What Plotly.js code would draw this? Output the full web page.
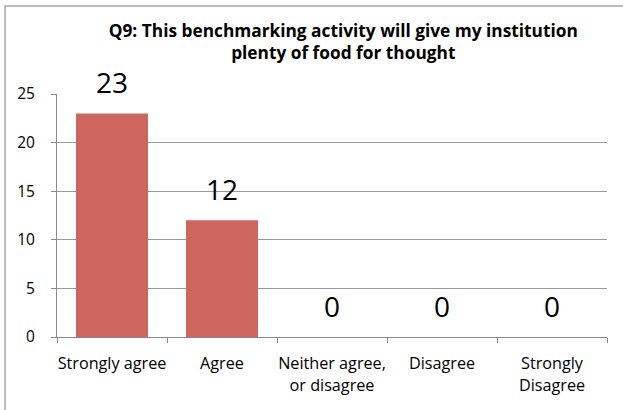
<!DOCTYPE html>
<html>
<head>
<meta charset="utf-8">
<script src="https://cdn.plot.ly/plotly-3.0.1.min.js"></script>
<style>html,body{margin:0;padding:0;background:#fff;}#chart{width:623px;height:410px;}</style>
</head>
<body>
<div id="chart"></div>
<script>
const categories = ["Strongly agree", "Agree", "Neither agree,<br>or disagree", "Disagree", "Strongly<br>Disagree"];
const values = [23, 12, 0, 0, 0];
const titleText = "Q9: This benchmarking activity will give my institution<br>plenty of food for thought";
const yTicks = [0, 5, 10, 15, 20, 25];

const FONT = "'Open Sans', Lato, sans-serif";

const trace = {
  type: "bar",
  x: categories,
  y: values,
  width: 0.655,
  marker: { color: "#CC665E" },
  hoverinfo: "none"
};

const annotations = categories.map((c, i) => ({
  x: c, y: values[i], xref: "x", yref: "y",
  text: String(values[i]),
  showarrow: false,
  yanchor: "middle",
  yshift: 31,
  font: { family: FONT, size: 28, color: "#000" }
}));

const layout = {
  width: 623, height: 410,
  margin: { l: 57, r: 16, t: 94, b: 73 },
  paper_bgcolor: "#fff",
  plot_bgcolor: "#fff",
  showlegend: false,
  title: {
    text: titleText,
    x: 0.551, xanchor: "center",
    yref: "container",
    y: 0.91, yanchor: "middle",
    font: { family: FONT, size: 17.3, color: "#000", weight: "bold" }
  },
  xaxis: {
    type: "category",
    range: [-0.5, 4.5],
    showline: true, linecolor: "#888", linewidth: 1,
    ticks: "outside", tickson: "boundaries", ticklen: 5, tickcolor: "#888",
    showgrid: false,
    tickangle: 0,
    tickfont: { family: FONT, size: 16.2, color: "#000" },
    ticklabelstandoff: 12,
    fixedrange: true
  },
  yaxis: {
    range: [0, 25],
    tickvals: yTicks,
    showline: true, linecolor: "#888", linewidth: 1,
    ticks: "outside", ticklen: 5, tickcolor: "#888",
    showgrid: true, gridcolor: "#999", gridwidth: 1,
    zeroline: false,
    tickfont: { family: FONT, size: 15.5, color: "#000" },
    ticklabelstandoff: 13,
    fixedrange: true
  },
  annotations: annotations,
  shapes: [{
    type: "rect", xref: "paper", yref: "paper",
    x0: -0.0945, x1: 1.2, y0: -0.5, y1: 1.362,
    line: { color: "#a6a6a6", width: 1.5 },
    fillcolor: "rgba(0,0,0,0)", layer: "below"
  }]
};

Plotly.newPlot("chart", [trace], layout, { displayModeBar: false, staticPlot: true });
</script>
</body>
</html>
